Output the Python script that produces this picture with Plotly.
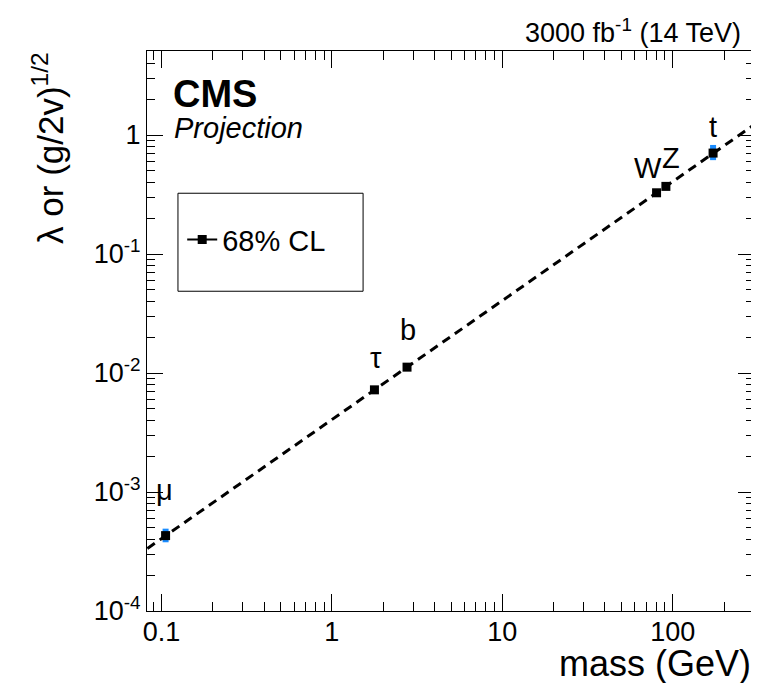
import math
import plotly.graph_objects as go

# ---- data ----
particles = ["μ", "τ", "b", "W", "Z", "t"]
mass_gev = [0.1057, 1.777, 2.76, 80.4, 91.19, 172.5]
coupling = [4.3e-4, 7.22e-3, 0.0112, 0.327, 0.370, 0.705]
err_plus = [0.000062, 0.00025, 0.0009, 0.008, 0.009, 0.12]
err_minus = [0.000052, 0.00025, 0.0006, 0.008, 0.009, 0.09]
# SM expectation line (mass / v)
sm_mass = [0.07, 300.0]
sm_coupling = [2.84e-4, 1.218]
# label offsets in pixels (dx, dy)
label_dx = [-1, 2, 1, -9, 5, 0]
label_dy = [46, 32, 37, 25, 28, 26]

x_major = [0.1, 1, 10, 100]
x_major_text = ["0.1", "1", "10", "100"]
x_minor = [0.09, 0.2, 0.3, 0.4, 0.5, 0.6, 0.7, 0.8, 0.9, 2, 3, 4, 5, 6, 7, 8, 9,
           20, 30, 40, 50, 60, 70, 80, 90, 200, 300]
y_major = [1e-4, 1e-3, 1e-2, 1e-1, 1]
y_major_text = ["10<sup>-4</sup>", "10<sup>-3</sup>", "10<sup>-2</sup>", "10<sup>-1</sup>", "1"]
y_minor = [m * 10 ** e for e in (-4, -3, -2, -1) for m in range(2, 10)] + [2, 3, 4, 5]

FONT = "Liberation Sans, Arial, Helvetica, sans-serif"
BLUE = "#1a8cff"

fig = go.Figure()

fig.add_trace(go.Scatter(
    x=sm_mass, y=sm_coupling, mode="lines",
    line=dict(color="black", width=3, dash="9px,6px"),
    showlegend=False, hoverinfo="skip"))

fig.add_trace(go.Scatter(
    x=mass_gev, y=coupling, mode="markers",
    marker=dict(symbol="square", size=9, color="black"),
    error_y=dict(type="data", symmetric=False, array=err_plus, arrayminus=err_minus,
                 color=BLUE, thickness=6, width=0),
    showlegend=False))

# legend entry
fig.add_trace(go.Scatter(
    x=[None], y=[None], mode="lines+markers", name="68% CL",
    line=dict(color="black", width=2),
    marker=dict(symbol="square", size=9, color="black")))

annotations = []
for name, mx, my, dx, dy in zip(particles, mass_gev, coupling, label_dx, label_dy):
    # annotation coordinates on log axes are given in log10 units
    annotations.append(dict(
        x=math.log10(mx), y=math.log10(my), xref="x", yref="y", text=name,
        showarrow=False, xanchor="center", yanchor="middle", xshift=dx, yshift=dy,
        font=dict(family=FONT, size=29, color="black")))

annotations += [
    dict(x=0.0395, y=0.923, xref="paper", yref="paper", text="<b>CMS</b>",
         showarrow=False, xanchor="left", yanchor="middle",
         font=dict(family=FONT, size=38, color="black")),
    dict(x=0.041, y=0.8625, xref="paper", yref="paper", text="<i>Projection</i>",
         showarrow=False, xanchor="left", yanchor="middle",
         font=dict(family=FONT, size=29, color="black")),
    dict(x=0.982, y=1.036, xref="paper", yref="paper",
         text="3000 fb<sup>-1</sup> (14 TeV)",
         showarrow=False, xanchor="right", yanchor="middle",
         font=dict(family=FONT, size=27, color="black")),
    dict(x=0.998, y=-0.093, xref="paper", yref="paper", text="mass (GeV)",
         showarrow=False, xanchor="right", yanchor="middle",
         font=dict(family=FONT, size=36, color="black")),
    dict(x=-0.163, y=0.827, xref="paper", yref="paper",
         text="λ or (g/2v)<sup>1/2</sup>", textangle=-90,
         showarrow=False, xanchor="center", yanchor="middle",
         font=dict(family=FONT, size=35, color="black")),
]

fig.update_layout(
    width=759, height=683,
    margin=dict(l=139, r=13, t=43, b=80),
    paper_bgcolor="white", plot_bgcolor="white",
    font=dict(family=FONT, color="black"),
    showlegend=True,
    legend=dict(x=0.058, y=0.663, xanchor="left", yanchor="middle",
                bgcolor="rgba(0,0,0,0)", borderwidth=0,
                font=dict(family=FONT, size=29, color="black"),
                itemwidth=30),
    annotations=annotations,
    shapes=[dict(type="rect", xref="paper", yref="paper",
                 x0=0.051, x1=0.356, y0=0.571, y1=0.746,
                 line=dict(color="black", width=1), fillcolor="rgba(0,0,0,0)")],
)

fig.update_xaxes(
    type="log", range=[-1.085, 2.477],
    tickmode="array", tickvals=x_major, ticktext=x_major_text,
    ticks="inside", ticklen=17, tickwidth=1, tickcolor="black",
    ticklabelstandoff=-3,
    minor=dict(tickmode="array", tickvals=x_minor, ticks="inside", ticklen=9,
               tickwidth=1, tickcolor="black", showgrid=False),
    showline=True, linecolor="black", linewidth=1, mirror="allticks",
    showgrid=False, zeroline=False,
    tickfont=dict(family=FONT, size=27, color="black"))

fig.update_yaxes(
    type="log", range=[-4, 0.706],
    tickmode="array", tickvals=y_major, ticktext=y_major_text,
    ticks="inside", ticklen=16, tickwidth=1, tickcolor="black",
    minor=dict(tickmode="array", tickvals=y_minor, ticks="inside", ticklen=8,
               tickwidth=1, tickcolor="black", showgrid=False),
    showline=True, linecolor="black", linewidth=1, mirror="allticks",
    showgrid=False, zeroline=False,
    tickfont=dict(family=FONT, size=27, color="black"))

fig.write_html("out.html")
